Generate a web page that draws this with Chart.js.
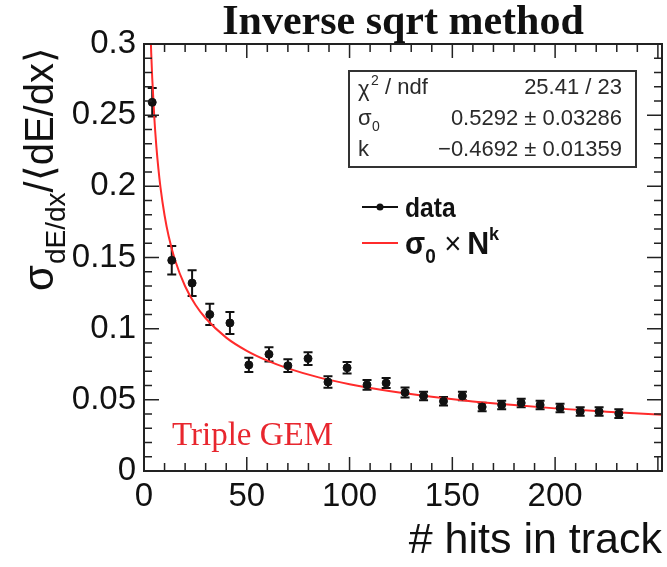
<!DOCTYPE html>
<html>
<head>
<meta charset="utf-8">
<script src="https://cdn.jsdelivr.net/npm/chart.js@4.4.0/dist/chart.umd.min.js"></script>
<style>
  html, body { margin: 0; background: #fff; }
  #wrap { width: 667px; height: 567px; }
</style>
</head>
<body>
<div id="wrap"><canvas id="c"></canvas></div>
<script>
// hits in track vs relative dE/dx resolution
const hits = [4, 13.5, 23.4, 32, 41.8, 51, 60.8, 70, 79.8, 89.5, 98.8, 108.5, 117.8,
              127, 136, 145.7, 154.9, 164.5, 174, 183.5, 192.7, 202.4, 212.2, 221.4, 231];
const sigma = [0.259, 0.148, 0.132, 0.110, 0.104, 0.0745, 0.082, 0.074, 0.079, 0.0625, 0.0725, 0.0605, 0.0618,
               0.0552, 0.0527, 0.049, 0.0527, 0.045, 0.0464, 0.0478, 0.0464, 0.0443, 0.0418, 0.0418, 0.0403];
const sigmaErr = [0.010, 0.010, 0.009, 0.0075, 0.0077, 0.005, 0.005, 0.0045, 0.0045, 0.004, 0.004, 0.0035, 0.0035,
                  0.0035, 0.003, 0.003, 0.003, 0.003, 0.003, 0.003, 0.003, 0.003, 0.003, 0.003, 0.003];

// fitted curve sigma0 * N^k
const fitHits  = [3, 3.5, 4, 5, 6, 7, 8, 10, 12, 15, 20, 25, 30, 40, 50, 60, 70, 85, 100, 120, 140, 160, 180, 200, 225, 252];
const fitSigma = [0.3161, 0.2940, 0.2761, 0.2487, 0.2283, 0.2124, 0.1995, 0.1797, 0.1649, 0.1486, 0.1298, 0.1168,
                  0.1073, 0.0937, 0.0844, 0.0775, 0.0721, 0.0658, 0.0610, 0.0560, 0.0521, 0.0489, 0.0463, 0.0440, 0.0417, 0.0395];

const xTicks = [0, 50, 100, 150, 200];
const yTicks = [0, 0.05, 0.1, 0.15, 0.2, 0.25, 0.3];
const statValues = ['25.41 / 23', '0.5292 ± 0.03286', '−0.4692 ± 0.01359'];

const SANS = '"Liberation Sans", Arial, sans-serif';
const SERIF = '"Liberation Serif", "Times New Roman", serif';
const RED = '#ff2b2b';

// error bars with small caps
const errorBars = {
  id: 'errorBars',
  beforeDatasetsDraw(chart) {
    const {ctx, scales: {x, y}} = chart;
    ctx.save();
    ctx.strokeStyle = '#111';
    ctx.lineWidth = 2;
    hits.forEach((h, i) => {
      const px = x.getPixelForValue(h);
      const top = y.getPixelForValue(sigma[i] + sigmaErr[i]);
      const bot = y.getPixelForValue(sigma[i] - sigmaErr[i]);
      ctx.beginPath();
      ctx.moveTo(px, top); ctx.lineTo(px, bot);
      ctx.moveTo(px - 4.5, top); ctx.lineTo(px + 4.5, top);
      ctx.moveTo(px - 4.5, bot); ctx.lineTo(px + 4.5, bot);
      ctx.stroke();
    });
    ctx.restore();
  }
};

// ROOT-like frame with inward ticks on all four sides
const frame = {
  id: 'frame',
  afterDraw(chart) {
    const {ctx, chartArea: a, scales: {x, y}} = chart;
    ctx.save();
    ctx.strokeStyle = '#222';
    ctx.lineWidth = 2;
    ctx.strokeRect(a.left, a.top, a.right - a.left, a.bottom - a.top);
    ctx.lineWidth = 1.5;
    ctx.beginPath();
    for (let v = 0; v <= x.max; v += 10) {
      const px = x.getPixelForValue(v);
      const len = v % 50 === 0 ? 14 : 8;
      ctx.moveTo(px, a.bottom); ctx.lineTo(px, a.bottom - len);
      ctx.moveTo(px, a.top); ctx.lineTo(px, a.top + len);
    }
    for (let k = 0; k <= 30; k++) {
      const py = y.getPixelForValue(k / 100);
      const len = k % 5 === 0 ? 15 : 8;
      ctx.moveTo(a.left, py); ctx.lineTo(a.left + len, py);
      ctx.moveTo(a.right, py); ctx.lineTo(a.right - len, py);
    }
    ctx.stroke();

    // y axis title: sigma_{dE/dx} / <dE/dx>
    ctx.fillStyle = '#111';
    ctx.translate(53, 291);
    ctx.rotate(-Math.PI / 2);
    ctx.textAlign = 'left';
    ctx.textBaseline = 'alphabetic';
    let tx = 0;
    ctx.font = '42px ' + SANS;
    ctx.fillText('σ', tx, 0); tx += ctx.measureText('σ').width + 1;
    ctx.font = '28px ' + SANS;
    ctx.fillText('dE/dx', tx, 12); tx += ctx.measureText('dE/dx').width;
    ctx.font = '40px ' + SANS;
    ctx.fillText('/⟨dE/dx⟩', tx, 0);
    ctx.restore();
  }
};

// stats box, legend and label
const overlay = {
  id: 'overlay',
  afterDraw(chart) {
    const {ctx} = chart;
    ctx.save();
    // stats box
    ctx.strokeStyle = '#333';
    ctx.lineWidth = 2;
    ctx.strokeRect(349, 71, 287, 96);
    ctx.fillStyle = '#2a2a2a';
    ctx.textBaseline = 'middle';
    const rowsY = [88, 119, 150];
    ctx.font = '22px ' + SANS;
    ctx.textAlign = 'right';
    statValues.forEach((s, i) => ctx.fillText(s, 622, rowsY[i]));
    ctx.textAlign = 'left';
    ctx.fillText('χ', 358, rowsY[0] + 2);
    ctx.font = '14px ' + SANS;
    ctx.fillText('2', 371, rowsY[0] - 7);
    ctx.font = '22px ' + SANS;
    ctx.fillText('/ ndf', 385, rowsY[0]);
    ctx.fillText('σ', 358, rowsY[1]);
    ctx.font = '14px ' + SANS;
    ctx.fillText('0', 372, rowsY[1] + 8);
    ctx.font = '22px ' + SANS;
    ctx.fillText('k', 358, rowsY[2]);

    // legend
    ctx.lineWidth = 2;
    ctx.strokeStyle = '#111';
    ctx.beginPath(); ctx.moveTo(362, 207); ctx.lineTo(398, 207); ctx.stroke();
    ctx.fillStyle = '#111';
    ctx.beginPath(); ctx.arc(380, 207, 3.5, 0, Math.PI * 2); ctx.fill();
    ctx.strokeStyle = RED;
    ctx.beginPath(); ctx.moveTo(362, 243); ctx.lineTo(398, 243); ctx.stroke();
    ctx.textBaseline = 'alphabetic';
    ctx.translate(405, 0);
    ctx.scale(0.88, 1);
    ctx.font = 'bold 28px ' + SANS;
    ctx.fillText('data', 0, 217);
    ctx.setTransform(1, 0, 0, 1, 405, 0);
    ctx.scale(0.95, 1);
    let lx = 0;
    ctx.font = 'bold 31px ' + SANS;
    ctx.fillText('σ', lx, 254); lx += ctx.measureText('σ').width;
    ctx.font = 'bold 20px ' + SANS;
    ctx.fillText('0', lx, 263); lx += ctx.measureText('0').width + 9;
    ctx.font = '31px ' + SANS;
    ctx.fillText('×', lx, 254); lx += ctx.measureText('×').width + 6;
    ctx.font = 'bold 32px ' + SANS;
    ctx.fillText('N', lx, 254); lx += ctx.measureText('N').width;
    ctx.font = 'bold 19px ' + SANS;
    ctx.fillText('k', lx, 240);
    ctx.setTransform(1, 0, 0, 1, 0, 0);

    // detector label
    ctx.fillStyle = '#e8262e';
    ctx.font = '33px ' + SERIF;
    ctx.fillText('Triple GEM', 172, 445);
    ctx.restore();
  }
};

new Chart(document.getElementById('c'), {
  type: 'scatter',
  data: {
    datasets: [
      {
        label: 'data',
        data: hits.map((h, i) => ({x: h, y: sigma[i]})),
        pointRadius: 4,
        pointBackgroundColor: '#111',
        pointBorderColor: '#111',
        showLine: false
      },
      {
        label: 'fit',
        data: fitHits.map((h, i) => ({x: h, y: fitSigma[i]})),
        showLine: true,
        borderColor: RED,
        borderWidth: 2,
        pointRadius: 0,
        cubicInterpolationMode: 'monotone'
      }
    ]
  },
  options: {
    responsive: true,
    maintainAspectRatio: false,
    animation: false,
    layout: { padding: { top: 0, right: 5, left: 0, bottom: 0 } },
    plugins: {
      legend: { display: false },
      tooltip: { enabled: false },
      title: {
        display: true,
        fullSize: false,
        text: 'Inverse sqrt method',
        color: '#111',
        font: { family: SERIF, size: 42, weight: 'bold', lineHeight: 1 },
        padding: { top: 2, bottom: 0 }
      }
    },
    scales: {
      x: {
        type: 'linear',
        min: 0,
        max: 252,
        grid: { display: false, drawTicks: false },
        border: { display: false },
        afterBuildTicks: s => { s.ticks = xTicks.map(v => ({value: v})); },
        afterFit: s => { s.height = 96; },
        ticks: { color: '#111', font: { family: SANS, size: 33 }, padding: 6, maxRotation: 0 },
        title: {
          display: true,
          align: 'end',
          text: '# hits in track',
          color: '#111',
          font: { family: SANS, size: 43 },
          padding: { top: 0, bottom: 0 }
        }
      },
      y: {
        type: 'linear',
        min: 0,
        max: 0.3,
        grid: { display: false, drawTicks: false },
        border: { display: false },
        afterBuildTicks: s => { s.ticks = yTicks.map(v => ({value: v})); },
        afterFit: s => { s.width = 144; },
        ticks: {
          color: '#111',
          font: { family: SANS, size: 33 },
          padding: 8,
          callback: v => String(+v.toFixed(2))
        }
      }
    }
  },
  plugins: [errorBars, frame, overlay]
});
</script>
</body>
</html>
